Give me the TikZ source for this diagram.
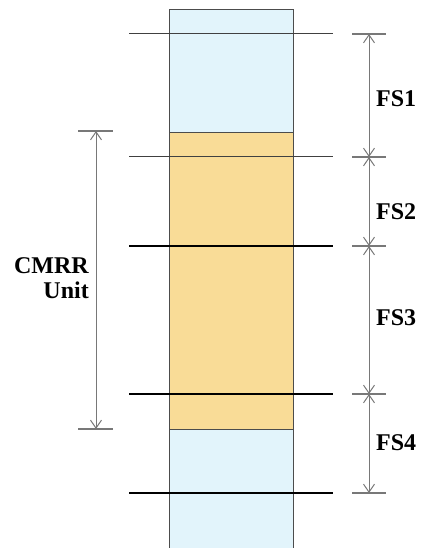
\documentclass[tikz,border=0pt]{standalone}
\usepackage{fontspec}
\setmainfont{Liberation Serif}
\usetikzlibrary{arrows.meta,positioning}
\definecolor{bluefill}{RGB}{226,244,251}
\definecolor{orangefill}{RGB}{249,220,151}
\definecolor{dimgray}{RGB}{120,120,120}
\tikzset{
    colborder/.style={draw=black!70, line width=1pt},
    levelthin/.style={draw=black!75, line width=1pt},
    levelthick/.style={draw=black, line width=1.6pt},
    tickline/.style={draw=dimgray, line width=1.2pt},
    dimarrow/.style={draw=dimgray, line width=1pt, {Straight Barb[length=8pt,width=11pt]}-{Straight Barb[length=8pt,width=11pt]}},
    fslabel/.style={anchor=west, inner sep=0pt, font=\fontsize{24}{26}\selectfont\bfseries}
}
\begin{document}
\begin{tikzpicture}[x=1pt, y=-1pt]
    \useasboundingbox (0,0) rectangle (422,548);
    % column
    \fill[bluefill] (169,10) rectangle (293,548);
    \fill[orangefill] (169,133) rectangle (293,429);
    \draw[colborder] (169,548) -- (169,10) -- (293,10) -- (293,548);
    \draw[colborder] (169,133) -- (293,133);
    \draw[colborder] (169,429) -- (293,429);
    % level lines and right ticks
    \foreach \i/\y/\s in {1/34/levelthin, 2/157/levelthin, 3/246/levelthick, 4/394/levelthick, 5/493/levelthick} {
        \draw[\s] (129,\y) -- (333,\y);
        \coordinate (r\i) at (369,\y);
        \draw[tickline] (352,\y) -- (386,\y);
    }
    % right dimensions
    \foreach \a/\b in {1/2, 2/3, 3/4, 4/5}
        \draw[dimarrow] (r\a) -- (r\b);
    \node[fslabel] (fs1) at (376,99) {FS1};
    \node[fslabel] (fs2) at (376,212) {FS2};
    \node[fslabel] (fs3) at (376,318) {FS3};
    \node[fslabel] (fs4) at (376,443) {FS4};
    % left dimension
    \coordinate (ltop) at (96,131);
    \coordinate (lbot) at (96,429);
    \draw[tickline] (78,131) -- (113,131);
    \draw[tickline] (78,429) -- (113,429);
    \draw[dimarrow] (ltop) -- (lbot);
    \node[anchor=east, inner sep=0pt, align=right, font=\fontsize{24}{25}\selectfont\bfseries] (unit) at (89,278) {CMRR\\Unit};
\end{tikzpicture}
\end{document}
